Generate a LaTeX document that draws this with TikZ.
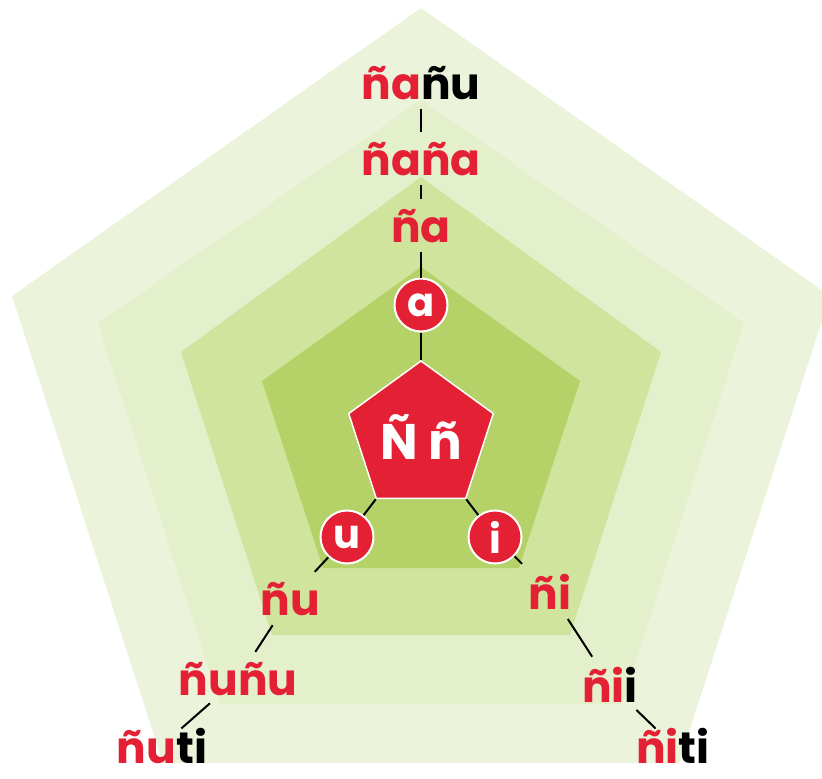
\documentclass[tikz,border=0pt]{standalone}
\usepackage{fontspec}
\setmainfont{Poppins}
\usetikzlibrary{shapes.geometric}
\definecolor{ringA}{RGB}{235,243,219}
\definecolor{ringB}{RGB}{228,239,203}
\definecolor{ringC}{RGB}{209,228,157}
\definecolor{ringD}{RGB}{180,210,104}
\definecolor{nred}{RGB}{228,32,52}
\newcommand{\rd}[1]{\textcolor{nred}{#1}}

\begin{document}
\begin{tikzpicture}[x=1pt,y=-1pt,
	font=\fontsize{44}{48}\selectfont\bfseries,
	syl/.style={inner sep=1pt,outer sep=9pt,anchor=base},
	vowel/.style={circle,fill=nred,draw=white,line width=2pt,minimum size=53pt,inner sep=0pt,text=white,font=\fontsize{40}{44}\selectfont\bfseries},
	link/.style={line width=2pt}]
	\useasboundingbox (0,0) rectangle (822,779);
	% pentagones de fond
	\fill[ringA] (421,8) -- (830,296) -- (679,763) -- (163,763) -- (12,296) -- cycle;
	\fill[ringB] (421,100) -- (744,323) -- (622,704) -- (220,704) -- (98,323) -- cycle;
	\fill[ringC] (421,177) -- (661,352) -- (570,635) -- (272,635) -- (181,352) -- cycle;
	\fill[ringD] (421,267) -- (580,381) -- (519,568) -- (323,568) -- (262,381) -- cycle;
	% centre
	\node[regular polygon,regular polygon sides=5,minimum size=152pt,inner sep=0pt,
		fill=nred,draw=white,line width=1.5pt,text=white,
		font=\fontsize{50}{54}\selectfont\bfseries] (nn) at (421,437) {Ñ ñ};
	\node[vowel] (a) at (421,305) {a};
	\node[vowel] (u) at (347,537) {u};
	\node[vowel] (i) at (495,537) {i};
	% syllabes
	\node[syl] (na) at (421,242) {\rd{ña}};
	\node[syl] (nana) at (421,175) {\rd{ñaña}};
	\node[syl] (nanu) at (421,99) {\rd{ña}ñu};
	\node[syl] (nu) at (290,615) {\rd{ñu}};
	\node[syl] (nunu) at (238,695) {\rd{ñuñu}};
	\node[syl,outer sep=1pt] (nuti) at (162,763) {\rd{ñu}ti};
	\node[syl] (ni) at (550,609) {\rd{ñi}};
	\node[syl] (nii) at (610,702) {\rd{ñi}i};
	\node[syl,outer sep=1pt] (niti) at (673,763) {\rd{ñi}ti};
	% liens
	\draw[link] (a) -- (nn.corner 1);
	\draw[link] (nn.corner 3) -- (u);
	\draw[link] (nn.corner 4) -- (i);
	\draw[link] (a) -- (na);
	\draw[link] (na) -- (nana);
	\draw[link] (nana) -- (nanu);
	\draw[link] (u) -- (nu);
	\draw[link] (nu) -- (nunu);
	\draw[link,shorten <=-3pt,shorten >=-4pt] (nunu) -- (nuti);
	\draw[link] (i) -- (ni);
	\draw[link] (ni) -- (nii);
	\draw[link,shorten <=-3pt,shorten >=-4pt] (nii) -- (niti);
\end{tikzpicture}
\end{document}
